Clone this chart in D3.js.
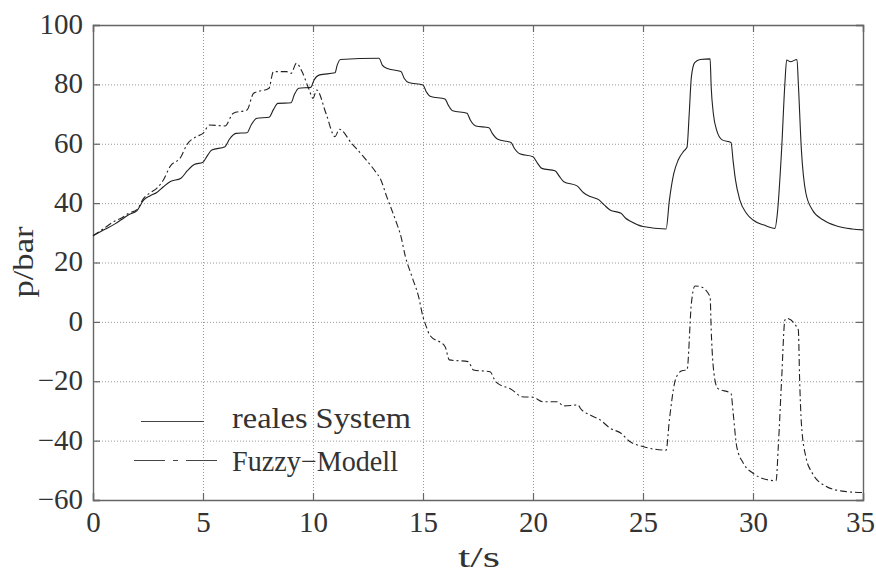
<!DOCTYPE html>
<html>
<head>
<meta charset="utf-8">
<script src="https://cdn.jsdelivr.net/npm/d3@7"></script>
<style>
  html, body { margin: 0; padding: 0; background: #fff; }
  svg { display: block; }
</style>
</head>
<body>
<div id="chart"></div>
<script>
// time axis ticks and pressure axis ticks
const xTicks = [0, 5, 10, 15, 20, 25, 30, 35];
const yTicks = [-60, -40, -20, 0, 20, 40, 60, 80, 100];

// reales System (solid)
const tReal = [0, 0.5, 1.0, 1.3, 1.6, 2.0, 2.3, 2.6, 2.9, 3.2, 3.5, 4.0, 4.3, 4.6, 5.0, 5.2, 5.4, 6.0, 6.2, 6.5,
  7.0, 7.2, 7.45, 8.0, 8.2, 8.4, 9.0, 9.15, 9.35, 9.9, 10.05, 10.3, 11.0, 11.1, 11.25, 13.0, 13.15, 13.35,
  14.0, 14.15, 14.35, 15.0, 15.15, 15.35, 16.0, 16.15, 16.35, 17.0, 17.15, 17.4, 18.0, 18.15, 18.4,
  19.0, 19.15, 19.4, 20.0, 20.2, 20.4, 21.0, 21.2, 21.4, 22.0, 22.3, 22.6, 23.0, 23.25, 23.5, 24.0,
  24.2, 24.45, 25.0, 26.05, 26.2, 26.4, 26.6, 26.85, 27.0, 27.1, 27.2, 27.35, 27.6, 28.05, 28.1, 28.2,
  28.35, 28.6, 29.0, 29.1, 29.2, 29.4, 29.7, 30.0, 30.5, 31.0, 31.1, 31.3, 31.45, 31.53, 31.7, 32.0,
  32.06, 32.2, 32.4, 32.7, 33.2, 33.8, 34.5, 35.0];
const pReal = [29, 31, 33, 34.5, 36, 37.5, 41, 42.5, 43.6, 45.5, 47.2, 48.4, 51, 53, 53.8, 56, 57.9, 59, 61.5, 63.5,
  63.7, 66.5, 68.6, 68.9, 71.5, 73.6, 73.8, 76.5, 78.7, 79, 81.5, 83.2, 83.9, 86.5, 88.4, 88.8, 86.5, 85.4,
  84.3, 82, 80.6, 79.8, 77.5, 75.9, 75.1, 73, 71.1, 70.3, 68, 66.0, 65.4, 63.5, 61.5,
  60.4, 58.5, 56.6, 55.6, 53.5, 51.7, 50.9, 49, 47.2, 45.8, 43.5, 42.2, 41.1, 39.3, 37.7, 36.6,
  35, 33.8, 32.1, 31.3, 41, 50, 54.5, 57.5, 58.8, 70, 82.6, 87.3, 88.4, 88.6, 79, 70,
  64.5, 61.3, 60.4, 54, 48, 41.1, 36.6, 34.3, 32.6, 31.5, 36, 58, 80.4, 88.2, 87.6, 88.4,
  80.4, 57.9, 43.5, 37.7, 34.3, 32.3, 31.3, 31.0];

// Fuzzy-Modell (dash-dot)
const tFuzzy = [0, 0.5, 1.0, 1.3, 1.6, 2.0, 2.3, 2.6, 2.9, 3.2, 3.5, 4.0, 4.26, 4.7, 5.0, 5.3, 6.0, 6.38, 7.0, 7.3,
  8.0, 8.2, 8.8, 9.0, 9.25, 9.5, 9.8, 10.0, 10.17, 10.6, 11.0, 11.2, 11.75, 12.3, 12.9, 13.05, 13.35,
  13.75, 14.0, 14.2, 14.5, 14.8, 15.0, 15.15, 15.3, 16.0, 16.2, 17.05, 17.3, 18.05, 18.3, 19.05, 19.5,
  20.0, 20.45, 21.1, 21.4, 22.05, 22.15, 22.6, 23.05, 23.5, 24.0, 24.4, 25.0, 26.05, 26.2, 26.45, 26.6,
  26.8, 27.0, 27.2, 27.36, 27.6, 28.05, 28.1, 28.27, 28.4, 29.0, 29.1, 29.26, 29.56, 30.0, 30.55, 31.05,
  31.15, 31.3, 31.45, 31.53, 32.06, 32.12, 32.2, 32.4, 32.7, 33.3, 34.05, 35.0];
const pFuzzy = [29, 31.5, 34, 35, 36.5, 37.8, 41.6, 43.5, 45, 47.8, 52.3, 55.6, 59.6, 62.4, 63.5, 66.3, 66, 70.3, 71.4, 77,
  78.7, 84.3, 84.3, 83.7, 87.1, 84.3, 78.7, 75.3, 78.1, 70, 62.4, 64.9, 60.2, 55.6, 50, 48.4, 42.2,
  34.3, 28.7, 22, 15.2, 8.5, 1.7, -1.6, -4.4, -8.3, -12.8, -13.4, -16.2, -16.8, -20.1, -22.9, -25.2,
  -25.4, -26.9, -26.9, -28.3, -28.0, -29.1, -31.4, -33, -35.8, -37.5, -40.3, -42, -43.2, -33, -20.1, -17.5,
  -16.4, -16.2, 6.3, 12.1, 11.9, 8.5, -2.7, -19.6, -22.4, -24.1, -30.8, -42, -47.6, -51, -53, -53.5,
  -42, -19.6, 0.6, 1.2, -2.7, -19.6, -34.2, -45.4, -51, -55.3, -57, -57.5];

const legendLabels = ['reales System', 'Fuzzy\u2212Modell'];

const W = 876, H = 576;
const margin = { top: 25, right: 13, bottom: 76, left: 93 };
const iw = W - margin.left - margin.right;
const ih = H - margin.top - margin.bottom;
const font = '"Liberation Serif", "Times New Roman", serif';
const ink = '#333';

const svg = d3.select('#chart').append('svg')
  .attr('width', W)
  .attr('height', H);

const g = svg.append('g').attr('transform', `translate(${margin.left},${margin.top})`);

const x = d3.scaleLinear().domain([0, 35]).range([0, iw]);
const y = d3.scaleLinear().domain([-60, 100]).range([ih, 0]);

// dotted grid
g.append('g')
  .attr('class', 'grid')
  .attr('transform', `translate(0,${ih})`)
  .call(d3.axisBottom(x).tickValues(xTicks.slice(1, -1)).tickSize(-ih).tickFormat(''))
  .call(s => s.select('.domain').remove());
g.append('g')
  .attr('class', 'grid')
  .call(d3.axisLeft(y).tickValues(yTicks.slice(1, -1)).tickSize(-iw).tickFormat(''))
  .call(s => s.select('.domain').remove());
g.selectAll('.grid line')
  .attr('stroke', '#999')
  .attr('stroke-width', 1)
  .attr('stroke-dasharray', '1,2');

// frame axes, ticks pointing inward
const fmt = d => d < 0 ? '\u2212' + Math.abs(d) : String(d);

const axB = g.append('g')
  .attr('transform', `translate(0,${ih})`)
  .call(d3.axisBottom(x).tickValues(xTicks).tickSize(-7).tickPadding(11).tickFormat(fmt));
const axL = g.append('g')
  .call(d3.axisLeft(y).tickValues(yTicks).tickSize(-7).tickPadding(10).tickFormat(fmt));
const axT = g.append('g')
  .call(d3.axisTop(x).tickValues(xTicks).tickSize(-7).tickFormat(''));
const axR = g.append('g')
  .attr('transform', `translate(${iw},0)`)
  .call(d3.axisRight(y).tickValues(yTicks).tickSize(-7).tickFormat(''));

[axB, axL, axT, axR].forEach(a => {
  a.select('.domain').attr('stroke', '#666').attr('stroke-width', 1.4);
  a.selectAll('.tick line').attr('stroke', '#666').attr('stroke-width', 1.2);
  a.selectAll('.tick text')
    .attr('font-family', font)
    .attr('font-size', 29)
    .attr('fill', ink);
});
axL.selectAll('.tick text').attr('dy', '0.29em');
// last label sits at the right edge; keep it inside the page
axB.selectAll('.tick text').filter(d => d === 35).attr('dx', -3);

// data lines
const line = d3.line()
  .x(d => x(d[0]))
  .y(d => y(d[1]))
  .curve(d3.curveMonotoneX);

g.append('path')
  .datum(d3.zip(tReal, pReal))
  .attr('fill', 'none')
  .attr('stroke', '#222')
  .attr('stroke-width', 1.1)
  .attr('d', line);

g.append('path')
  .datum(d3.zip(tFuzzy, pFuzzy))
  .attr('fill', 'none')
  .attr('stroke', '#222')
  .attr('stroke-width', 1.1)
  .attr('stroke-dasharray', '7,3,2,3')
  .attr('d', line);

// legend
const leg = svg.append('g');
leg.append('line')
  .attr('x1', 141).attr('x2', 204)
  .attr('y1', 421.5).attr('y2', 421.5)
  .attr('stroke', '#444').attr('stroke-width', 1.1);
leg.append('line')
  .attr('x1', 134).attr('x2', 218)
  .attr('y1', 460.5).attr('y2', 460.5)
  .attr('stroke', '#444').attr('stroke-width', 1.1)
  .attr('stroke-dasharray', '31,8,5,8');
leg.selectAll('text')
  .data(legendLabels)
  .join('text')
  .attr('x', 232)
  .attr('y', (d, i) => i === 0 ? 427.5 : 470.5)
  .attr('font-family', font)
  .attr('font-size', 29)
  .attr('fill', ink)
  .attr('textLength', (d, i) => i === 0 ? 179 : 166)
  .attr('lengthAdjust', 'spacingAndGlyphs')
  .text(d => d);

// axis titles
svg.append('text')
  .attr('x', 479)
  .attr('y', 567)
  .attr('text-anchor', 'middle')
  .attr('font-family', font)
  .attr('font-size', 29)
  .attr('fill', ink)
  .attr('textLength', 42)
  .attr('lengthAdjust', 'spacingAndGlyphs')
  .text('t/s');

svg.append('text')
  .attr('transform', 'translate(33,262) rotate(-90)')
  .attr('text-anchor', 'middle')
  .attr('font-family', font)
  .attr('font-size', 29)
  .attr('fill', ink)
  .attr('textLength', 71)
  .attr('lengthAdjust', 'spacingAndGlyphs')
  .text('p/bar');
</script>
</body>
</html>
